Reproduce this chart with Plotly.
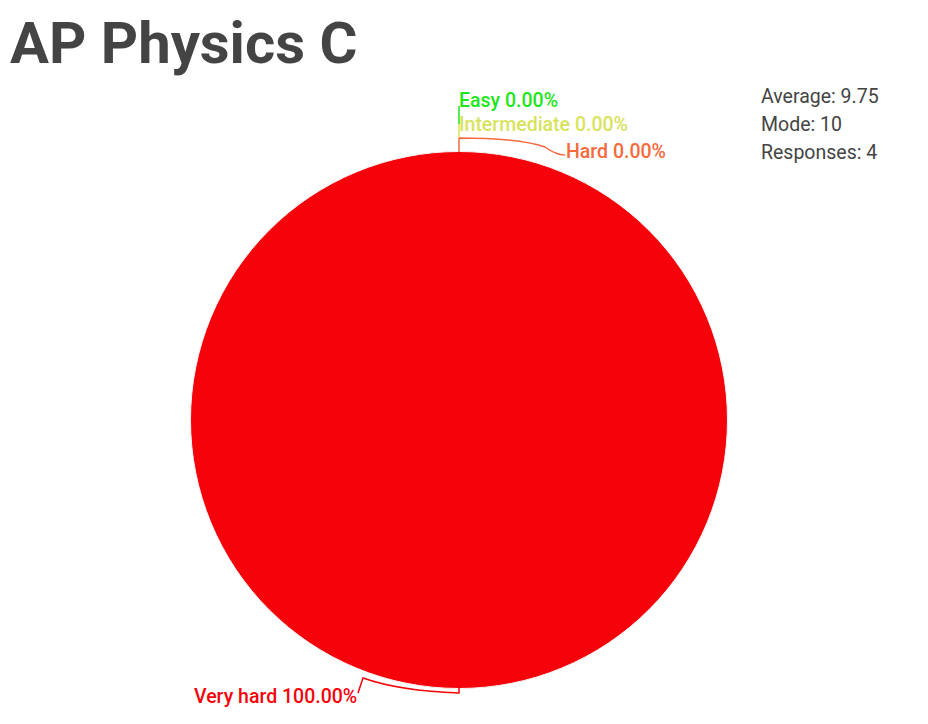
import plotly.graph_objects as go

# ---- data ----
categories = ["Easy", "Intermediate", "Hard", "Very hard"]
values = [0, 0, 0, 4]
colors = ["#1ee61a", "#d8e35c", "#f86a3c", "#f5020b"]
stats_labels = ["Average", "Mode", "Responses"]
stats_values = ["9.75", "10", "4"]
title_text = "AP Physics C"

W, H = 928, 724
OFF = 8  # page body margin
total = sum(values)
pcts = [100.0 * v / total for v in values]

fig = go.Figure()

# pie: centre (459,420) radius 268 in page pixel space
cx, cy, r = 459 - OFF, 420 - OFF, 268.5
fig.add_trace(go.Pie(
    labels=categories, values=values,
    marker=dict(colors=colors, line=dict(color="#f4f4f4", width=1)),
    textinfo="none", hoverinfo="label+percent", sort=False, direction="clockwise",
    showlegend=False,
    domain=dict(x=[(cx - r) / W, (cx + r) / W], y=[1 - (cy + r) / H, 1 - (cy - r) / H]),
))

# outside label positions (layout, page pixels) for each category
label_pos = [(457, 100, "left"), (457, 124, "left"), (564, 151, "left"), (359, 696, "right")]
annotations = []
for cat, p, col, (x, y, anc) in zip(categories, pcts, colors, label_pos):
    annotations.append(dict(
        x=x - OFF, y=y - OFF, xref="x", yref="y", text=f"{cat} {p:.2f}%", showarrow=False,
        xanchor=anc, yanchor="middle",
        font=dict(family="Roboto", size=19.5, color=col, weight=500),
    ))

# title
annotations.append(dict(
    x=8 - OFF, y=43 - OFF, xref="x", yref="y", text=f"<b>{title_text}</b>", showarrow=False,
    xanchor="left", yanchor="middle", font=dict(family="Roboto", size=58, color="#444444"),
))
# stats
for i, (a, b) in enumerate(zip(stats_labels, stats_values)):
    annotations.append(dict(
        x=759 - OFF, y=96 + 28 * i - OFF, xref="x", yref="y", text=f"{a}: {b}",
        showarrow=False, align="left", xanchor="left", yanchor="middle",
        font=dict(family="Roboto", size=19.5, color="#444444"),
    ))

# leader lines (page pixels)
def P(s):
    toks = s.split()
    out, nums = [], []
    for t in toks:
        try:
            nums.append(float(t))
        except ValueError:
            out.append(t)
            continue
        if len(nums) == 2:
            out.append(f"{nums[0] - OFF} {nums[1] - OFF}")
            nums = []
    return " ".join(out)

shapes = [
    dict(type="path", path=P("M 459 106 L 459 124"), line=dict(color=colors[0], width=1.5)),
    dict(type="path", path=P("M 459 124 L 459 138"), line=dict(color=colors[1], width=1.5)),
    dict(type="path", path=P("M 459 138 L 459 152 M 459 138 Q 520 138 545 147 Q 556 155 565 155"),
         line=dict(color=colors[2], width=1.5)),
    dict(type="path", path=P("M 459 688 L 459 693 Q 400 691 363 678 L 358 693"),
         line=dict(color=colors[3], width=1.5)),
]

fig.update_layout(
    width=W, height=H, margin=dict(l=0, r=0, t=0, b=0),
    paper_bgcolor="white", plot_bgcolor="rgba(0,0,0,0)",
    xaxis=dict(range=[0, W], visible=False, domain=[0, 1], fixedrange=True),
    yaxis=dict(range=[H, 0], visible=False, domain=[0, 1], fixedrange=True),
    annotations=annotations, shapes=shapes,
    font=dict(family="Roboto"),
)

fig.write_html("out.html")
